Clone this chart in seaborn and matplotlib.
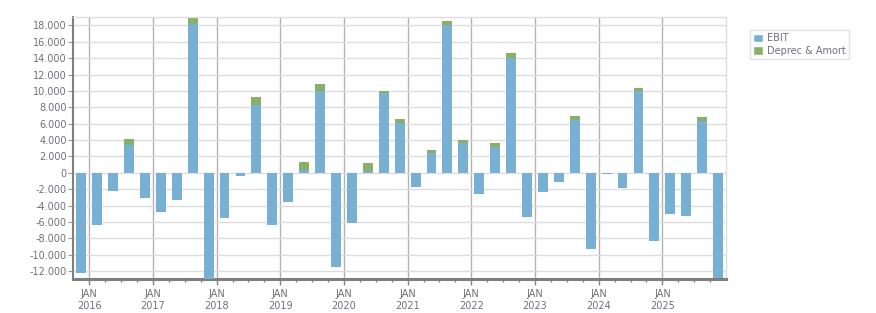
import numpy as np
import pandas as pd
import matplotlib
matplotlib.use("Agg")
import matplotlib.pyplot as plt
import matplotlib.ticker as mticker
from matplotlib.patches import Patch
import seaborn as sns

# quarterly periods, Q4 2015 .. Q4 2025
quarters = [f"{y}Q{q}" for y in range(2015, 2026) for q in range(1, 5)][3:]

ebit = [-12240, -6370, -2200, 3430, -3060, -4780, -3300, 18240, -13500,
        -5510, -330, 8330, -6370, -3550, 410, 9960, -11470, -6080, 240,
        9800, 6040, -1670, 2370, 18120, 3590, -2530, 3100, 14080, -5350,
        -2290, -1060, 6490, -9270, -80, -1800, 9960, -8290, -4980, -5220,
        6370, -12820]
deprec = [30, 30, 30, 730, 30, 30, 30, 740, 30,
          30, 30, 980, 30, 30, 940, 940, 30, 30, 980,
          240, 570, 30, 450, 490, 450, 30, 570, 610, 30,
          30, 30, 490, 30, 30, 30, 450, 30, 30, 30,
          490, 30]

year_labels = [f"JAN\n{y}" for y in range(2016, 2026)]

blue = "#78b0d4"
green = "#88b068"
text_col = "#70707c"

df = pd.DataFrame({"quarter": quarters, "ebit": ebit, "da": deprec})
# stacked look: green segment sits on top of positive EBIT, above zero otherwise
df["top"] = np.where(df["ebit"] > 0, df["ebit"] + df["da"], df["da"])

sns.set_style("white")
fig = plt.figure(figsize=(8.76, 3.13), dpi=100)
ax = fig.add_axes([0.0837, 0.1077, 0.7451, 0.837])

sns.barplot(data=df, x="quarter", y="top", color=green, width=0.62,
            saturation=1, errorbar=None, linewidth=0, zorder=2, ax=ax)
sns.barplot(data=df, x="quarter", y="ebit", color=blue, width=0.62,
            saturation=1, errorbar=None, linewidth=0, zorder=3, ax=ax)

ax.set_xlim(-0.5, len(quarters) - 0.5)
ax.set_ylim(-13000, 19000)
ax.set_xlabel("")
ax.set_ylabel("")

# x axis: year starts as major ticks, quarter starts as minor
ax.set_xticks([0.5 + 4 * k for k in range(len(year_labels))])
ax.set_xticklabels(year_labels, linespacing=1.25)
ax.set_xticks([0.5 + k for k in range(len(quarters) - 1)], minor=True)

ax.yaxis.set_major_locator(mticker.MultipleLocator(2000))
ax.yaxis.set_major_formatter(
    mticker.FuncFormatter(lambda v, _: f"{v:,.0f}".replace(",", ".")))

ax.set_axisbelow(True)
ax.grid(axis="y", color="#dddddd", linewidth=1)
ax.grid(axis="x", which="major", color="#b3b3b3", linewidth=1)

for side in ["top", "right"]:
    ax.spines[side].set_color("#dddddd")
    ax.spines[side].set_linewidth(1)
ax.spines["left"].set_color("#7f7f7f")
ax.spines["left"].set_linewidth(1.5)
ax.spines["bottom"].set_color("#7f7f7f")
ax.spines["bottom"].set_linewidth(2.2)

ax.tick_params(axis="y", length=3.6, width=0.8, color="#999999", pad=1,
               labelsize=7, labelcolor=text_col, left=True)
ax.tick_params(axis="x", which="major", length=4, width=1, color="#808080",
               pad=3, labelsize=7, labelcolor=text_col, bottom=True)
ax.tick_params(axis="x", which="minor", length=2.5, width=1,
               color="#808080", bottom=True)

handles = [Patch(facecolor=blue, label="EBIT"),
           Patch(facecolor=green, label="Deprec & Amort")]
leg = fig.legend(handles=handles, loc="upper left",
                 bbox_to_anchor=(0.856, 0.904), frameon=True, fancybox=False,
                 edgecolor="#dddddd", fontsize=7, labelcolor=text_col,
                 handlelength=1.0, handleheight=1.0, handletextpad=0.4,
                 borderpad=0.35, labelspacing=0.25, borderaxespad=0)
leg.get_frame().set_linewidth(1)

fig.savefig("out.png", dpi=100)
